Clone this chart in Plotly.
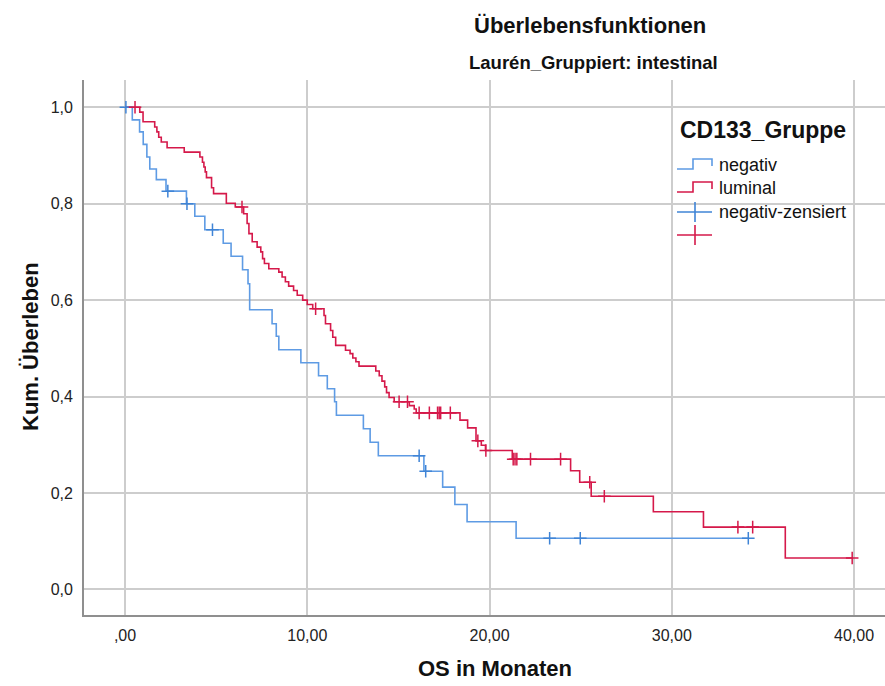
import plotly.graph_objects as go

# Kaplan-Meier step data: time of each step (months) and survival after it
neg_time = [0, 0.40, 0.80, 1.00, 1.20, 1.36, 1.72, 2.25, 3.37, 3.83, 4.38, 5.39, 5.82, 6.45, 6.75, 6.84,
            8.07, 8.30, 8.44, 9.65, 10.62, 11.10, 11.50, 11.60, 13.08, 13.45, 13.90, 16.40, 17.43, 18.10,
            18.77, 21.46, 34.20]
neg_surv = [1.0, 0.974, 0.949, 0.923, 0.897, 0.872, 0.850, 0.826, 0.800, 0.774, 0.746, 0.718, 0.691, 0.663,
            0.634, 0.580, 0.551, 0.525, 0.497, 0.470, 0.443, 0.416, 0.389, 0.361, 0.333, 0.305, 0.277, 0.245,
            0.212, 0.176, 0.140, 0.106, 0.106]

lum_time = [0, 0.81, 0.99, 1.63, 1.75, 1.85, 1.99, 2.31, 3.25, 4.11, 4.25, 4.33, 4.40, 4.47, 4.75, 4.86,
            5.56, 6.05, 6.51, 6.70, 6.80, 6.98, 7.25, 7.45, 7.55, 7.65, 7.89, 8.44, 8.62, 8.80, 8.98, 9.25,
            9.45, 9.75, 10.00, 10.30, 10.92, 11.00, 11.28, 11.40, 11.56, 12.10, 12.35, 12.50, 12.67, 12.84,
            13.76, 13.95, 14.10, 14.25, 14.35, 14.49, 14.77, 15.60, 15.87, 15.98, 18.38, 18.80, 19.26, 19.55,
            19.78, 21.25, 24.45, 24.95, 25.58, 28.99, 31.74, 36.23, 39.90]
lum_surv = [1.0, 0.990, 0.970, 0.959, 0.949, 0.938, 0.928, 0.916, 0.907, 0.897, 0.886, 0.876, 0.866, 0.854,
            0.833, 0.821, 0.801, 0.793, 0.779, 0.759, 0.738, 0.721, 0.710, 0.700, 0.686, 0.676, 0.665, 0.658,
            0.648, 0.638, 0.629, 0.620, 0.610, 0.600, 0.591, 0.582, 0.568, 0.551, 0.537, 0.523, 0.506, 0.496,
            0.489, 0.480, 0.472, 0.463, 0.453, 0.443, 0.432, 0.420, 0.408, 0.398, 0.389, 0.381, 0.374, 0.366,
            0.351, 0.335, 0.308, 0.299, 0.288, 0.270, 0.246, 0.222, 0.193, 0.161, 0.129, 0.065, 0.065]

# censored observations
neg_cens_time = [0.05, 2.35, 3.40, 4.80, 16.14, 16.50, 23.30, 24.98, 34.20]
neg_cens_surv = [1.0, 0.826, 0.800, 0.746, 0.277, 0.245, 0.106, 0.106, 0.106]

lum_cens_time = [0.55, 6.42, 10.46, 15.04, 15.50, 16.14, 16.70, 17.15, 17.24, 17.32, 17.85, 19.36, 19.80,
                 21.30, 21.40, 21.50, 22.25, 23.90, 25.50, 26.30, 33.63, 34.44, 39.90]
lum_cens_surv = [1.0, 0.793, 0.582, 0.389, 0.389, 0.366, 0.366, 0.366, 0.366, 0.366, 0.366, 0.308, 0.288,
                 0.270, 0.270, 0.270, 0.270, 0.270, 0.222, 0.193, 0.129, 0.129, 0.065]

x_ticks = [0, 10, 20, 30, 40]
x_ticktext = [",00", "10,00", "20,00", "30,00", "40,00"]
y_ticks = [0.0, 0.2, 0.4, 0.6, 0.8, 1.0]
y_ticktext = ["0,0", "0,2", "0,4", "0,6", "0,8", "1,0"]

legend_labels = ["negativ", "luminal", "negativ-zensiert", ""]

BLUE = "#5e9be4"
BLUE_C = "#3f84d6"
RED = "#d5194a"
FONT = "Arial, Liberation Sans, sans-serif"

W, H = 885, 686
ML, MR, MT, MB = 84, 0, 80, 71
PW, PH = W - ML - MR, H - MT - MB


def P(px, py):
    """pixel position -> paper coordinates"""
    return (px - ML) / PW, (H - MB - py) / PH


fig = go.Figure()
fig.add_trace(go.Scatter(x=neg_time, y=neg_surv, mode="lines", line=dict(color=BLUE, width=1.6, shape="hv"),
                         showlegend=False, hoverinfo="skip"))
fig.add_trace(go.Scatter(x=lum_time, y=lum_surv, mode="lines", line=dict(color=RED, width=1.6, shape="hv"),
                         showlegend=False, hoverinfo="skip"))
fig.add_trace(go.Scatter(x=neg_cens_time, y=neg_cens_surv, mode="markers",
                         marker=dict(symbol="cross-thin", size=9, line=dict(color=BLUE_C, width=1.5)),
                         showlegend=False, hoverinfo="skip"))
fig.add_trace(go.Scatter(x=lum_cens_time, y=lum_cens_surv, mode="markers",
                         marker=dict(symbol="cross-thin", size=9, line=dict(color=RED, width=1.5)),
                         showlegend=False, hoverinfo="skip"))

x0 = -41 / 18.225
x1 = (W - 125) / 18.225
y1 = 1 + (107.3 - MT) / 482
y0 = -(H - MB - 589.3) / 482

fig.update_xaxes(range=[x0, x1], tickvals=x_ticks, ticktext=x_ticktext, showgrid=True,
                 gridcolor="#cdcdcd", gridwidth=1.6, zeroline=False, showline=True, linecolor="#8f8f8f",
                 linewidth=1.8, ticks="", ticklabelstandoff=5,
                 tickfont=dict(family=FONT, size=16, color="#222222"))
fig.update_yaxes(range=[y0, y1], tickvals=y_ticks, ticktext=y_ticktext, showgrid=True,
                 gridcolor="#cdcdcd", gridwidth=1.6, zeroline=False, showline=True, linecolor="#8f8f8f",
                 linewidth=1.8, ticks="", ticklabelstandoff=6,
                 tickfont=dict(family=FONT, size=16, color="#222222"))

shapes = []
annotations = []


def text(px, py, s, size, bold=False, xanchor="center", angle=0):
    x, y = P(px, py)
    annotations.append(dict(x=x, y=y, xref="paper", yref="paper", text=f"<b>{s}</b>" if bold else s,
                            showarrow=False, xanchor=xanchor, yanchor="middle", textangle=angle,
                            font=dict(family=FONT, size=size, color="#111111")))


def path(points, color, width=1.6):
    d = ""
    for i, (px, py) in enumerate(points):
        x, y = P(px, py)
        d += ("M" if i == 0 else "L") + f"{x:.5f},{y:.5f} "
    shapes.append(dict(type="path", path=d.strip(), xref="paper", yref="paper",
                       line=dict(color=color, width=width)))


# titles
text(590, 25, "Überlebensfunktionen", 22, bold=True)
text(593, 62, "Laurén_Gruppiert: intestinal", 18.5, bold=True)
text(495, 668, "OS in Monaten", 22, bold=True)
text(30, 347, "Kum. Überleben", 22, bold=True, angle=-90)

# legend
text(678, 130, "CD133_Gruppe", 23, bold=True, xanchor="left")
rows = [165, 188, 212, 235]
for cy, col in zip(rows[:2], [BLUE, RED]):
    path([(677, cy + 4), (693, cy + 4), (693, cy - 6), (712, cy - 6), (712, cy + 1)], col)
for cy, col in zip(rows[2:], [BLUE_C, RED]):
    path([(677, cy), (712, cy)], col)
    path([(695, cy - 10), (695, cy + 10)], col)
for cy, lab in zip(rows, legend_labels):
    if lab:
        text(717, cy, lab, 18, xanchor="left")

fig.update_layout(width=W, height=H, margin=dict(l=ML, r=MR, t=MT, b=MB),
                  plot_bgcolor="white", paper_bgcolor="white", shapes=shapes,
                  annotations=annotations, showlegend=False)

fig.write_html("out.html")
